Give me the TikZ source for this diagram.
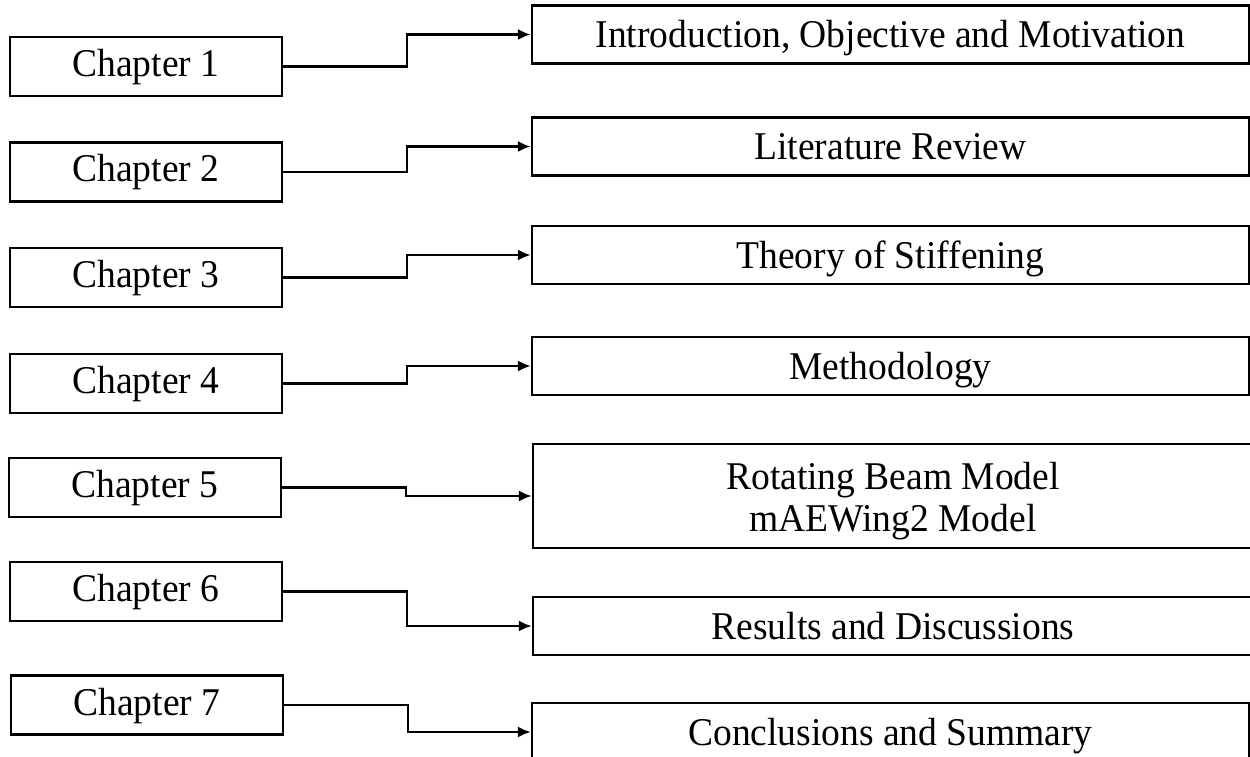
\documentclass[tikz,border=0pt]{standalone}
\usepackage{fontspec}
\setmainfont{Liberation Serif}[FakeStretch=0.955]
\usetikzlibrary{arrows.meta}
\begin{document}
\begin{tikzpicture}[x=1pt, y=-1pt,
  chapbox/.style={draw=black, line width=2.4pt, fill=white, inner sep=0pt,
    minimum width=272pt, minimum height=59pt, text height=27pt, text depth=7pt,
    font=\fontsize{39.3}{42}\selectfont},
  topicbox/.style={draw=black, line width=2.4pt, fill=white, inner sep=0pt,
    minimum width=717pt, minimum height=58pt, text height=30pt, text depth=4pt,
    font=\fontsize{39.3}{42}\selectfont},
  twolinebox/.style={draw=black, line width=2.4pt, fill=white, inner sep=0pt,
    minimum width=720pt, minimum height=104pt, align=center,
    font=\fontsize{39.3}{42}\selectfont},
  conn/.style={line width=2.2pt, -{Latex[length=13pt, width=11pt]}}]
\useasboundingbox (0,0) rectangle (1250,757);
\clip (0,0) rectangle (1250,757);
\fill[white] (0,0) rectangle (1250,757);

% chapter boxes on the left
\node[chapbox] (c1) at (146,66.5)  {Chapter 1};
\node[chapbox] (c2) at (146,172)   {Chapter 2};
\node[chapbox] (c3) at (146,277.5) {Chapter 3};
\node[chapbox] (c4) at (146,383.5) {Chapter 4};
\node[chapbox] (c5) at (145,487.5) {Chapter 5};
\node[chapbox] (c6) at (146,591.5) {Chapter 6};
\node[chapbox] (c7) at (147,705)   {Chapter 7};

% chapter topics on the right
\node[topicbox] (r1) at (890.5,34.5) {Introduction, Objective and Motivation};
\node[topicbox] (r2) at (890.5,146.5) {Literature Review};
\node[topicbox] (r3) at (890.5,255) {Theory of Stiffening};
\node[topicbox] (r4) at (890.5,366) {Methodology};
\node[twolinebox] (r5) at (893,496) {\rule{0pt}{38pt}Rotating Beam Model\\mAEWing2 Model};
\node[topicbox, minimum width=720pt] (r6) at (893,626) {Results and Discussions};
\node[topicbox] (r7) at (890.5,732) {Conclusions and Summary};

% stepped connectors
\foreach \i in {1,...,7}{
  \draw[conn] (c\i.east) -- ++(124,0) |- (r\i.west);
}
\end{tikzpicture}
\end{document}
